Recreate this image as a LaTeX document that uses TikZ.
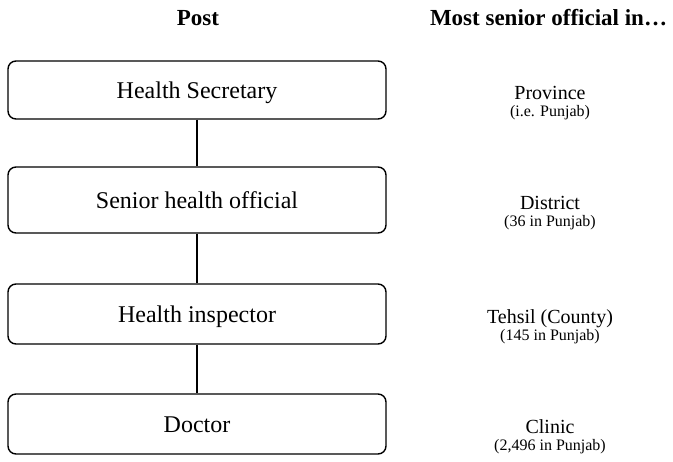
\documentclass[tikz,border=0pt]{standalone}
\usepackage{fontspec}
\setmainfont{Liberation Serif}
\usepackage{tikz}

\begin{document}
\begin{tikzpicture}[x=0.5pt, y=-0.5pt]

        % Styles for the boxes and the texts beside them
        \tikzset{postbox/.style={draw, line width=0.7pt, rounded corners=4pt, minimum width=189pt, inner sep=0pt, text height=8pt, text depth=0pt, font=\fontsize{12}{14}\selectfont},
                 heading/.style={anchor=base, inner sep=0pt, font=\fontsize{11.5}{13}\selectfont\bfseries},
                 unit/.style={anchor=base, inner sep=0pt, font=\fontsize{10}{12}\selectfont},
                 count/.style={anchor=base, inner sep=0pt, font=\fontsize{8}{10}\selectfont}}

        \useasboundingbox (0,0) rectangle (673,461);

        % =================================================================
        % 1. HEADINGS
        % =================================================================

        \node[heading] (post) at (198,25) {Post};
        \node[heading] (senior) at (548.5,25) {Most senior official in…};

        % =================================================================
        % 2. POSTS - Left Column
        % =================================================================

        % Define Coordinates
        \coordinate (S) at (197,90);
        \coordinate (H) at (197,200);
        \coordinate (I) at (197,314);
        \coordinate (D) at (197,424);

        % Draw the boxes
        \node[postbox, minimum height=29pt] (secretary) at (S) {Health Secretary};
        \node[postbox, minimum height=33pt] (official) at (H) {Senior health official};
        \node[postbox, minimum height=30pt] (inspector) at (I) {Health inspector};
        \node[postbox, minimum height=30pt] (doctor) at (D) {Doctor};

        % Join them top to bottom
        \draw[line width=0.7pt] (secretary) -- (official);
        \draw[line width=0.7pt] (official) -- (inspector);
        \draw[line width=0.7pt] (inspector) -- (doctor);

        % =================================================================
        % 3. UNITS - Right Column
        % =================================================================

        \node[unit] (province) at (550,99) {Province};
        \node[count] (provincecount) at (550,116.5) {(i.e. Punjab)};

        \node[unit] (district) at (550,209) {District};
        \node[count] (districtcount) at (550,226.5) {(36 in Punjab)};

        \node[unit] (tehsil) at (550,323) {Tehsil (County)};
        \node[count] (tehsilcount) at (550,340.5) {(145 in Punjab)};

        \node[unit] (clinic) at (550,433) {Clinic};
        \node[count] (cliniccount) at (550,450.5) {(2,496 in Punjab)};

    \end{tikzpicture}
\end{document}
